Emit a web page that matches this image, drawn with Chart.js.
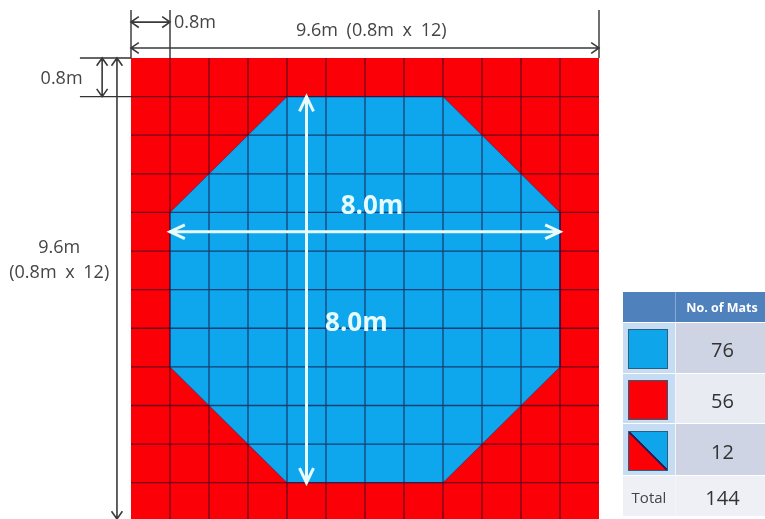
<!DOCTYPE html>
<html>
<head>
<meta charset="utf-8">
<script src="https://cdn.jsdelivr.net/npm/chart.js@4"></script>
<style>
  html, body { margin: 0; padding: 0; background: #fff; }
  #wrap { position: relative; width: 765px; height: 519px; overflow: hidden; font-family: "Open Sans", "Noto Sans", sans-serif; }
  #layout { position: absolute; left: 0; top: 0; filter: blur(0.55px); }
  #mats { position: absolute; left: 623px; top: 292px; width: 142px; border-collapse: separate; border-spacing: 0; filter: blur(0.4px); }
  #mats th { height: 30px; background: #4f81bd; color: #fff; font-size: 12.5px; font-weight: 700; padding: 0 0 0 3px; }
  #mats th:first-child { border-right: 1px solid #86a9d6; padding: 0; }
  #mats td { padding: 3px 0 0 4px; text-align: center; color: #333; font-size: 20px; border-top: 1.5px solid #fff; }
  #mats td:first-child { width: 52px; border-right: 1px solid #f2f5fa; padding: 2px 0 0 0; }
  #mats tr.odd td { background: #ced4e4; }
  #mats tr.odd td:first-child, #mats tr.even td:first-child { background: #c6dcf2; }
  #mats tr.even td { background: #e9ebf3; }
  #mats tr.total td, #mats tr.total td:first-child { background: #eef0f6; }
  #mats tr.total td:first-child { font-size: 15px; color: #444; }
  .swatch { display: block; width: 40px; height: 40px; margin: 0 0 0 5px; box-sizing: border-box; border: 1px solid #2c5f7d; }
</style>
</head>
<body>
<div id="wrap">
  <canvas id="layout" width="765" height="519"></canvas>
  <table id="mats"></table>
</div>
<script>
// everything on the plan is in mat units (1 unit = one 0.8m mat)
var matsAcross = 12;
var matsDown = 12;
var visibleDown = 11.94;

var outline = [[0, 0], [12, 0], [12, 12], [0, 12], [0, 0]];
var octagon = [[4, 1], [8, 1], [11, 4], [11, 8], [8, 11], [4, 11], [1, 8], [1, 4], [4, 1]];

var whiteArrows = [[1, 4.5, 11, 4.5], [4.5, 1, 4.5, 11]];
var darkArrows = [[0, -0.93, 1, -0.93], [0, -0.26, 12, -0.26], [-0.74, 0, -0.74, 1], [-0.36, 0, -0.36, 11.94]];
var extensionLines = [[0, -1.24, 0, 0], [1, -1.24, 1, 0], [12, -1.24, 12, 0], [-1.31, 0, 0, 0], [-1.31, 1, 0, 1]];

var darkLabels = [
  ['0.8m', 1.1, -0.9, 'left'],
  ['9.6m (0.8m x 12)', 4.23, -0.7, 'left'],
  ['0.8m', -1.78, 0.55, 'center'],
  ['9.6m', -1.84, 4.92, 'center'],
  ['(0.8m x 12)', -1.84, 5.57, 'center']
];
var whiteLabels = [
  ['8.0m', 6.18, 3.86],
  ['8.0m', 5.78, 6.89]
];

var tableHeader = ['', 'No. of Mats'];
var matCounts = [76, 56, 12];
var matKinds = ['#0fa5ea', '#fb0006', 'linear-gradient(to top right, #fb0006 48%, #3a1a55 48%, #3a1a55 52%, #0fa5ea 52%)'];
var rowHeights = [51, 50, 52, 41];
var totalLabel = 'Total';
var totalCount = 144;

function toPoints(list) {
  return list.map(function (p) { return { x: p[0], y: p[1] }; });
}

function gridPoints() {
  var pts = [];
  for (var i = 1; i < matsAcross; i++) {
    pts.push({ x: i, y: 0 }, { x: i, y: matsDown }, { x: null, y: null });
  }
  for (var j = 1; j < matsDown; j++) {
    pts.push({ x: 0, y: j }, { x: matsAcross, y: j }, { x: null, y: null });
  }
  return pts;
}

function segmentPoints(list) {
  var pts = [];
  list.forEach(function (s) {
    pts.push({ x: s[0], y: s[1] }, { x: s[2], y: s[3] }, { x: null, y: null });
  });
  return pts;
}

// shaft plus an open head at both ends
function arrowPoints(list, len, half) {
  var pts = [];
  list.forEach(function (a) {
    var horiz = a[1] === a[3];
    pts.push({ x: a[0], y: a[1] }, { x: a[2], y: a[3] }, { x: null, y: null });
    [[a[0], a[1], 1], [a[2], a[3], -1]].forEach(function (end) {
      var dx = horiz ? end[2] * len : half;
      var dy = horiz ? half : end[2] * len;
      pts.push({ x: end[0] + dx, y: end[1] + dy }, { x: end[0], y: end[1] });
      pts.push(horiz ? { x: end[0] + dx, y: end[1] - dy } : { x: end[0] - dx, y: end[1] + dy });
      pts.push({ x: null, y: null });
    });
  });
  return pts;
}

var planLabels = {
  id: 'planLabels',
  afterDraw: function (chart) {
    var ctx = chart.ctx, sx = chart.scales.x, sy = chart.scales.y;
    ctx.save();
    ctx.textBaseline = 'middle';
    ctx.font = '18px "Open Sans"';
    ctx.fillStyle = '#444';
    ctx.wordSpacing = '4px';
    darkLabels.forEach(function (l) {
      ctx.textAlign = l[3];
      ctx.fillText(l[0], sx.getPixelForValue(l[1]), sy.getPixelForValue(l[2]));
    });
    ctx.wordSpacing = '0px';
    ctx.font = '700 26px "Open Sans"';
    ctx.fillStyle = '#e6fbff';
    ctx.textAlign = 'center';
    whiteLabels.forEach(function (l) {
      ctx.fillText(l[0], sx.getPixelForValue(l[1]), sy.getPixelForValue(l[2]));
    });
    ctx.restore();
  }
};

function lineSet(points, color, width, order) {
  return { data: points, borderColor: color, borderWidth: width, order: order, clip: false, pointRadius: 0, fill: false, tension: 0 };
}

new Chart(document.getElementById('layout').getContext('2d'), {
  type: 'scatter',
  data: {
    datasets: [
      lineSet(arrowPoints(whiteArrows, 0.38, 0.18), '#e8fbfb', 3, 1),
      lineSet(arrowPoints(darkArrows, 0.2, 0.14), '#3a3a3a', 1.6, 1),
      lineSet(segmentPoints(extensionLines), '#333', 1.4, 1),
      lineSet(gridPoints(), 'rgba(30, 0, 40, 0.62)', 1.3, 2),
      { data: toPoints(octagon), showLine: true, fill: 'shape', backgroundColor: '#0ea6ec', borderColor: 'rgba(70, 25, 80, 0.55)', borderWidth: 1, pointRadius: 0, order: 3, clip: false },
      { data: toPoints(outline), showLine: true, fill: 'shape', backgroundColor: '#fb0006', borderColor: '#fb0006', borderWidth: 0, pointRadius: 0, order: 4, clip: false }
    ]
  },
  options: {
    responsive: false,
    animation: false,
    showLine: true,
    layout: { padding: { left: 131, right: 166, top: 58, bottom: 0 } },
    plugins: { legend: { display: false }, tooltip: { enabled: false } },
    scales: {
      x: { type: 'linear', min: 0, max: matsAcross, display: false },
      y: { type: 'linear', min: 0, max: visibleDown, reverse: true, display: false }
    }
  },
  plugins: [planLabels]
});

// table on the right
var table = document.getElementById('mats');
var html = '<tr><th>' + tableHeader[0] + '</th><th>' + tableHeader[1] + '</th></tr>';
matCounts.forEach(function (n, i) {
  html += '<tr class="' + (i % 2 ? 'even' : 'odd') + '" style="height:' + rowHeights[i] + 'px"><td><span class="swatch" style="background:' + matKinds[i] + '"></span></td><td>' + n + '</td></tr>';
});
html += '<tr class="total" style="height:' + rowHeights[3] + 'px"><td>' + totalLabel + '</td><td>' + totalCount + '</td></tr>';
table.innerHTML = html;
</script>
</body>
</html>
